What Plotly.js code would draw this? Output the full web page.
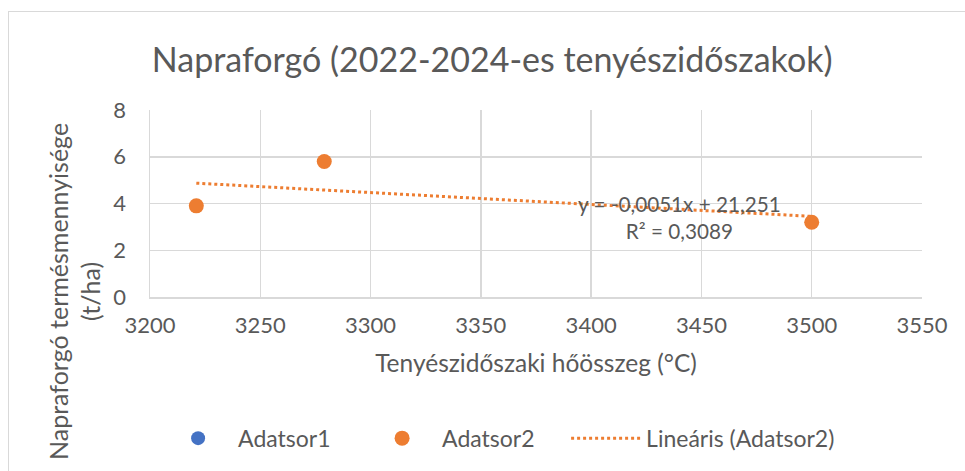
<!DOCTYPE html>
<html>
<head>
<meta charset="utf-8">
<script src="https://cdn.plot.ly/plotly-3.0.1.min.js"></script>
<style>
html,body{margin:0;padding:0;background:#fff;}
#chart{width:965px;height:471px;position:absolute;left:0;top:0;}
#frame{position:absolute;left:8px;top:11px;width:980px;height:480px;border:1px solid #d9d9d9;pointer-events:none;}
</style>
</head>
<body>
<div id="chart"></div>
<div id="frame"></div>
<script>
// Data
const series1X = [null];
const series1Y = [null];
const series2X = [3221, 3279, 3500];
const series2Y = [3.9, 5.8, 3.2];
const trendX = [3221, 3500];
const trendY = [4.87, 3.45];
const xTicks = [3200, 3250, 3300, 3350, 3400, 3450, 3500, 3550];
const yTicks = [0, 2, 4, 6, 8];
const titleText = "Napraforgó (2022-2024-es tenyészidőszakok)";
const xTitle = "Tenyészidőszaki hőösszeg (°C)";
const yTitle = "Napraforgó termésmennyisége<br>(t/ha)";
const eqText = "y = -0,0051x + 21,251<br>R² = 0,3089";

const FONT = "Lato, 'Open Sans', sans-serif";
const GREY = "#595959";

const traces = [
  {x: series1X, y: series1Y, type: 'scatter', mode: 'markers', name: 'Adatsor1',
   marker: {color: '#4472C4', size: 14}},
  {x: series2X, y: series2Y, type: 'scatter', mode: 'markers', name: 'Adatsor2',
   marker: {color: '#ED7D31', size: 15}},
  {x: trendX, y: trendY, type: 'scatter', mode: 'lines', name: 'Lineáris (Adatsor2)',
   line: {color: '#ED7D31', width: 3, dash: 'dot'}, legendwidth: 200}
];

const layout = {
  width: 965, height: 471,
  margin: {l: 150, r: 43, t: 110, b: 174},
  paper_bgcolor: '#fff', plot_bgcolor: '#fff',
  font: {family: FONT, color: GREY, size: 23},
  title: {text: titleText, font: {size: 34, color: GREY, family: FONT}, x: 0.51, xanchor: 'center', y: 0.873, yanchor: 'middle'},
  xaxis: {range: [3200, 3550], tickvals: xTicks, ticktext: xTicks.map(String),
    showgrid: true, gridcolor: '#d9d9d9', gridwidth: 1.5, zeroline: false,
    showline: true, linecolor: '#d9d9d9', linewidth: 1.5, ticks: '',
    tickfont: {size: 22, color: GREY}, ticklabelstandoff: 8,
    title: {text: xTitle, font: {size: 24.5, color: GREY}, standoff: 18}},
  yaxis: {range: [0, 8], tickvals: yTicks, ticktext: yTicks.map(String),
    showgrid: true, gridcolor: '#d9d9d9', gridwidth: 1.5, zeroline: false,
    showline: true, linecolor: '#d9d9d9', linewidth: 1.5, ticks: '',
    tickfont: {size: 22, color: GREY}, ticklabelstandoff: 18},
  showlegend: true,
  legend: {orientation: 'h', x: 0.0105, xanchor: 'left', y: -0.755, yanchor: 'middle',
    font: {size: 23, color: GREY}, itemwidth: 70, traceorder: 'normal',
    entrywidth: 119, entrywidthmode: 'pixels'},
  annotations: [
    {text: yTitle, xref: 'paper', yref: 'paper', x: -0.0985, y: 0.032, xanchor: 'center', yanchor: 'middle',
     textangle: -90, showarrow: false, font: {size: 25, color: GREY}, align: 'center'},
    {text: eqText, xref: 'x', yref: 'y', x: 3440, y: 3.40, xanchor: 'center', yanchor: 'middle',
     showarrow: false, font: {size: 20.7, color: GREY}, align: 'center'}
  ]
};

Plotly.newPlot('chart', traces, layout, {displayModeBar: false, staticPlot: true});
</script>
</body>
</html>
